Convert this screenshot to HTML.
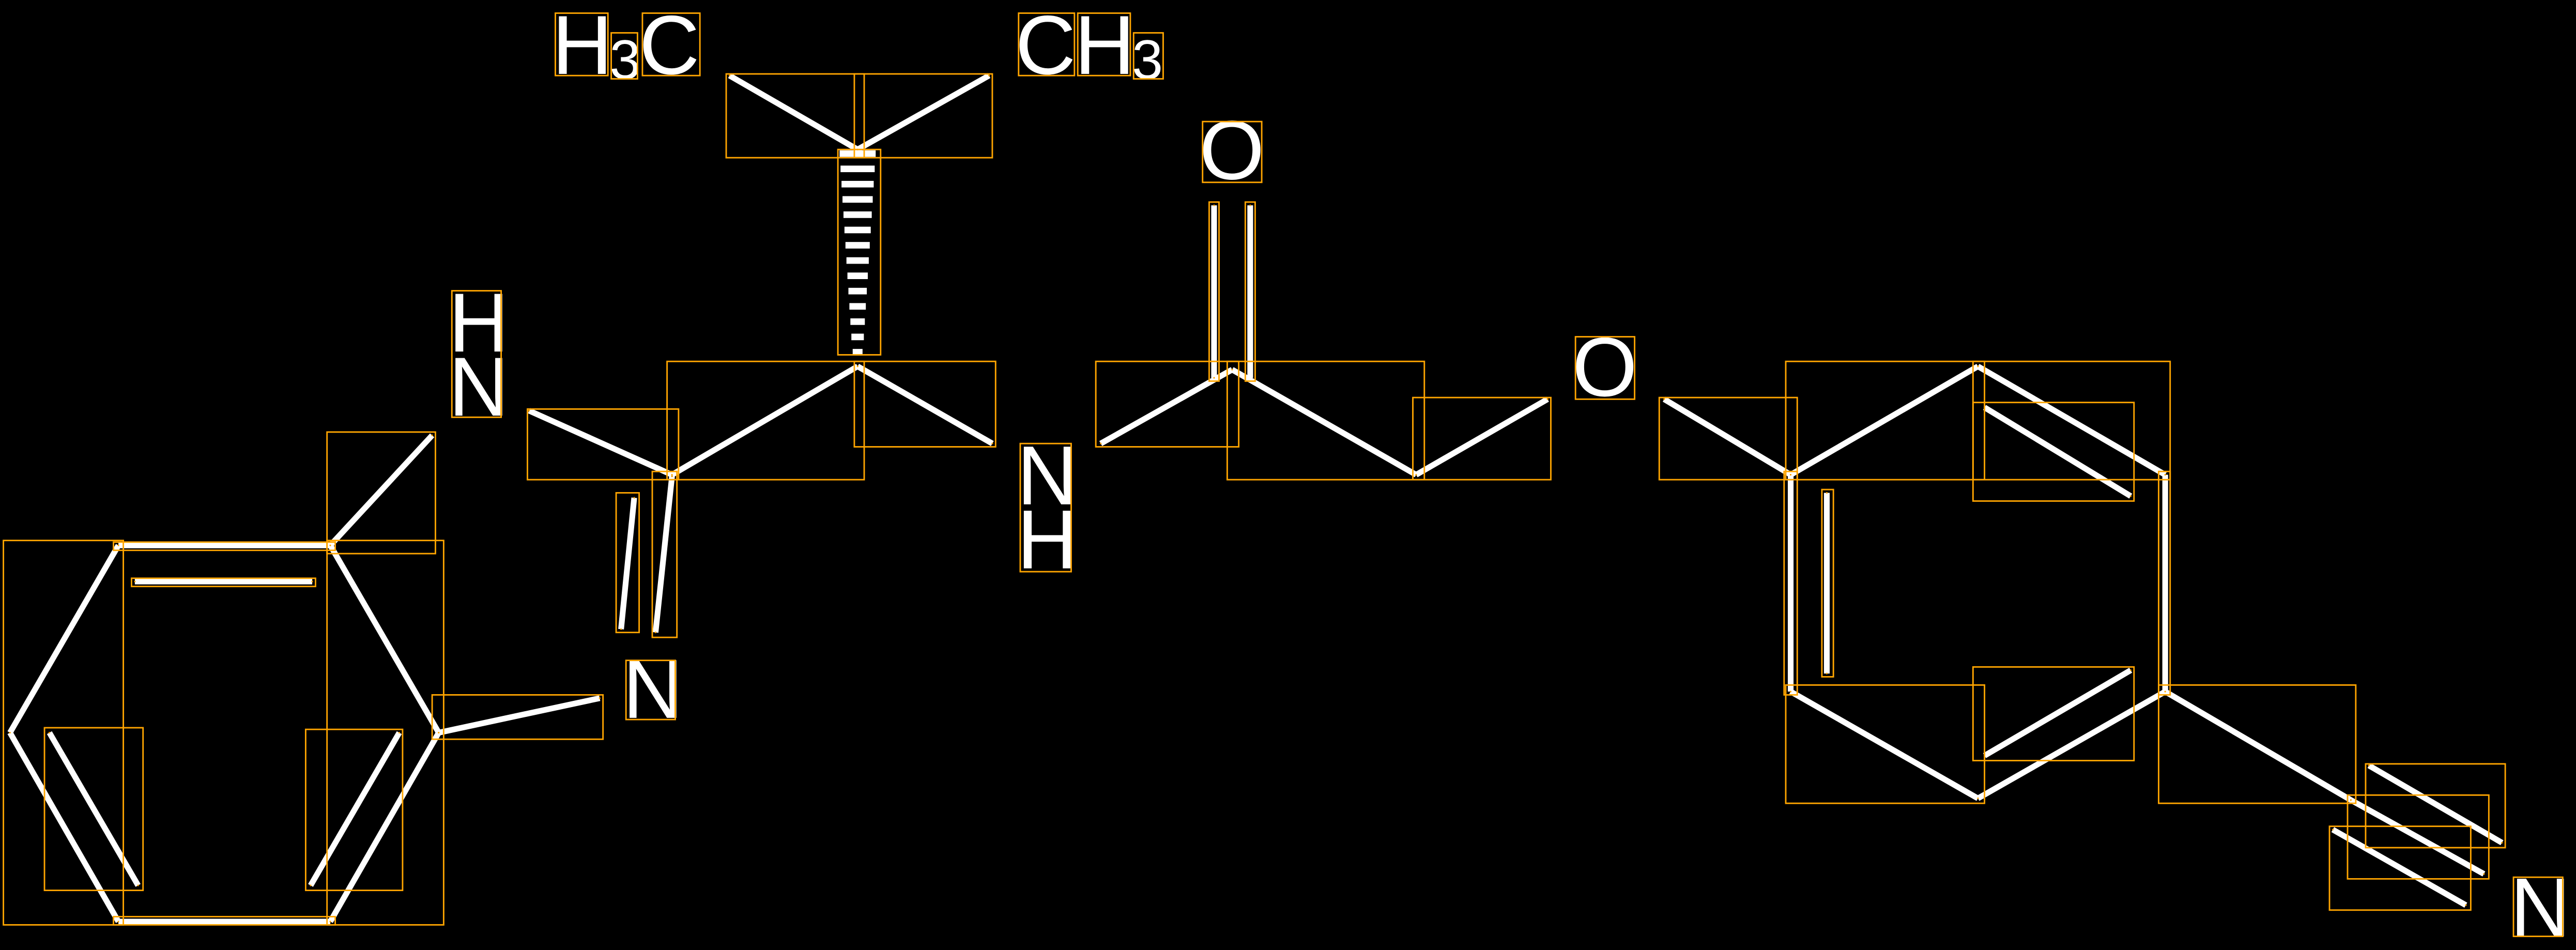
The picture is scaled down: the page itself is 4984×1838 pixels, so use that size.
<!DOCTYPE html>
<html><head><meta charset="utf-8"><style>
html,body{margin:0;padding:0;background:#000;}
svg{display:block;}
text{font-family:"Liberation Sans",sans-serif;fill:#fff;}
</style></head><body>
<svg width="4984" height="1838" viewBox="0 0 1568 578.3" xmlns="http://www.w3.org/2000/svg">
<defs>
<marker id="d" viewBox="-2 -2 4 4" markerWidth="1" markerHeight="1" markerUnits="userSpaceOnUse" refX="0" refY="0"><circle r="2" fill="#ffa500"/></marker>
</defs>
<rect width="1568" height="578.3" fill="#000"/>
<g stroke="#fff" stroke-width="3.5" stroke-linecap="butt" marker-start="url(#d)" marker-end="url(#d)">
<line x1="522" y1="91" x2="444" y2="46"/>
<line x1="522" y1="91" x2="602" y2="46"/>
<line x1="522" y1="223" x2="409" y2="289"/>
<line x1="522" y1="223" x2="604" y2="270"/>
<line x1="409" y1="289" x2="322" y2="250"/>
<line x1="386" y1="303" x2="378" y2="383"/>
<line x1="409" y1="290" x2="399" y2="385"/>
<line x1="670" y1="270" x2="750" y2="225"/>
<line x1="739" y1="125" x2="739" y2="230"/>
<line x1="761" y1="125" x2="761" y2="230"/>
<line x1="750" y1="225" x2="862" y2="289"/>
<line x1="862" y1="289" x2="942" y2="243"/>
<line x1="1013" y1="243" x2="1090" y2="289"/>
<line x1="1090" y1="289" x2="1204" y2="223"/>
<line x1="1204" y1="223" x2="1318" y2="289"/>
<line x1="1318" y1="289" x2="1318" y2="421"/>
<line x1="1318" y1="421" x2="1204" y2="486"/>
<line x1="1204" y1="486" x2="1090" y2="421"/>
<line x1="1090" y1="421" x2="1090" y2="289"/>
<line x1="1208" y1="248" x2="1297" y2="302"/>
<line x1="1112" y1="300" x2="1112" y2="410"/>
<line x1="1208" y1="460" x2="1297" y2="408"/>
<line x1="1318" y1="421" x2="1431" y2="487"/>
<line x1="1442" y1="466" x2="1523" y2="513"/>
<line x1="1431" y1="487" x2="1512" y2="532"/>
<line x1="1420" y1="505" x2="1501" y2="551"/>
<line x1="72" y1="332" x2="201" y2="332"/>
<line x1="201" y1="332" x2="267" y2="446"/>
<line x1="267" y1="446" x2="201" y2="561"/>
<line x1="201" y1="561" x2="72" y2="561"/>
<line x1="72" y1="561" x2="6" y2="446"/>
<line x1="6" y1="446" x2="72" y2="332"/>
<line x1="82" y1="354" x2="190" y2="354"/>
<line x1="30" y1="446" x2="84" y2="539"/>
<line x1="243" y1="446" x2="189" y2="539"/>
<line x1="201" y1="332" x2="263" y2="265"/>
<line x1="267" y1="446" x2="365" y2="425"/>
</g>
<g fill="#fff">
<rect x="511" y="91.5" width="22" height="4"/>
<rect x="511.6" y="100.8" width="20.8" height="4"/>
<rect x="512.2" y="110.1" width="19.6" height="4"/>
<rect x="512.8" y="119.4" width="18.4" height="4"/>
<rect x="513.4" y="128.7" width="17.2" height="4"/>
<rect x="514" y="138" width="16" height="4"/>
<rect x="514.6" y="147.3" width="14.8" height="4"/>
<rect x="515.2" y="156.6" width="13.6" height="4"/>
<rect x="515.8" y="165.9" width="12.4" height="4"/>
<rect x="516.4" y="175.2" width="11.2" height="4"/>
<rect x="517" y="184.5" width="10" height="4"/>
<rect x="517.6" y="193.8" width="8.8" height="4"/>
<rect x="518.2" y="203.1" width="7.6" height="4"/>
<rect x="519" y="212.4" width="6" height="4"/>
</g>
<text x="336" y="45" font-size="51">H</text>
<text x="371" y="48" font-size="34">3</text>
<text x="389" y="45" font-size="51">C</text>
<text x="618" y="45" font-size="51">C</text>
<text x="654" y="45" font-size="51">H</text>
<text x="689" y="48" font-size="34">3</text>
<text x="730" y="109" font-size="51">O</text>
<text x="957" y="241" font-size="51">O</text>
<text x="273" y="214" font-size="51">H</text>
<text x="273" y="253" font-size="51">N</text>
<text x="619" y="307" font-size="51">N</text>
<text x="619" y="346" font-size="51">H</text>
<text x="379" y="437" font-size="51">N</text>
<text x="1528" y="570" font-size="51">N</text>
<g fill="none" stroke="#ffa500" stroke-width="0.9">
<rect x="338" y="8" width="32" height="38"/><rect x="372" y="20" width="16" height="28"/><rect x="391" y="8" width="35" height="38"/>
<rect x="620" y="8" width="34" height="38"/><rect x="656" y="8" width="32" height="38"/><rect x="690" y="20" width="18" height="28"/>
<rect x="442" y="45" width="84" height="51"/><rect x="520" y="45" width="84" height="51"/>
<rect x="510" y="91" width="26" height="125"/>
<rect x="732" y="74" width="36" height="37"/>
<rect x="736" y="123" width="6" height="109"/><rect x="758" y="123" width="6" height="109"/>
<rect x="275" y="177" width="30" height="77"/>
<rect x="321" y="249" width="92" height="43"/><rect x="406" y="220" width="120" height="72"/><rect x="520" y="220" width="86" height="52"/>
<rect x="375" y="300" width="14" height="85"/><rect x="397" y="287" width="15" height="101"/>
<rect x="381" y="402" width="30" height="36"/>
<rect x="621" y="270" width="31" height="78"/>
<rect x="667" y="220" width="87" height="52"/><rect x="747" y="220" width="120" height="72"/><rect x="860" y="242" width="84" height="50"/>
<rect x="959" y="205" width="36" height="38"/>
<rect x="1010" y="242" width="84" height="50"/><rect x="1087" y="220" width="121" height="72"/><rect x="1201" y="220" width="120" height="72"/>
<rect x="1201" y="245" width="98" height="60"/><rect x="1086" y="287" width="8" height="136"/><rect x="1109" y="298" width="7" height="114"/>
<rect x="1087" y="417" width="121" height="72"/><rect x="1201" y="406" width="98" height="57"/><rect x="1314" y="287" width="7" height="136"/>
<rect x="1314" y="417" width="120" height="72"/>
<rect x="1440" y="465" width="85" height="51"/><rect x="1429" y="484" width="86" height="51"/><rect x="1418" y="503" width="86" height="51"/>
<rect x="1530" y="534" width="30" height="36"/>
<rect x="2" y="329" width="73" height="234"/><rect x="27" y="443" width="60" height="99"/>
<rect x="199" y="329" width="71" height="234"/><rect x="186" y="444" width="59" height="98"/>
<rect x="199" y="263" width="66" height="74"/><rect x="263" y="423" width="104" height="27"/>
<rect x="69" y="330" width="135" height="5"/><rect x="80" y="352" width="112" height="5"/><rect x="69" y="558" width="135" height="5"/>
</g>
</svg>
</body></html>
